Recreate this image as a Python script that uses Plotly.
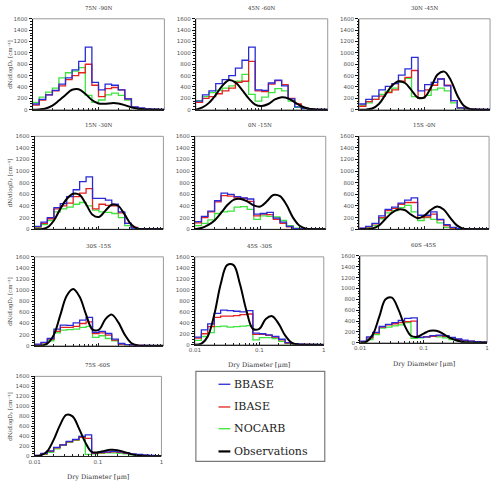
import plotly.graph_objects as go

W, H = 495, 489

# ---------------- data ----------------
bin_edges_um = [0.01, 0.0126, 0.0158, 0.02, 0.0251, 0.0316, 0.0398, 0.0501, 0.0631, 0.0794,
                0.1, 0.126, 0.158, 0.2, 0.251, 0.316, 0.398, 0.501, 0.631, 0.794, 1.0]
obs_diam_um = [0.01, 0.0126, 0.0158, 0.02, 0.0251, 0.0316, 0.0398, 0.0501, 0.0631, 0.0794,
               0.1, 0.126, 0.158, 0.2, 0.251, 0.316, 0.398, 0.501, 0.631, 0.794, 1.0]

region_titles = ["75N -90N", "45N -60N", "30N -45N", "15N -30N", "0N -15N",
                 "15S -0N", "30S -15S", "45S -30S", "60S -45S", "75S -60S"]

bbase_75n_90n = [100, 180, 260, 340, 450, 560, 700, 850, 1100, 480, 350, 450, 430, 350, 190, 50, 30, 15, 10, 5]
ibase_75n_90n = [80, 170, 260, 330, 420, 530, 600, 650, 800, 430, 230, 370, 390, 350, 190, 40, 20, 10, 5, 0]
nocarb_75n_90n = [130, 220, 310, 380, 560, 650, 680, 740, 250, 130, 170, 260, 290, 250, 170, 30, 15, 10, 5, 0]
obs_75n_90n = [0, 5, 20, 70, 160, 260, 350, 360, 280, 170, 110, 105, 115, 110, 80, 40, 15, 5, 0, 0, 0]

bbase_45n_60n = [150, 260, 330, 460, 530, 600, 730, 870, 1100, 350, 340, 470, 520, 420, 190, 50, 20, 10, 5, 5]
ibase_45n_60n = [130, 200, 230, 280, 330, 380, 480, 500, 850, 330, 320, 450, 510, 440, 200, 100, 30, 10, 5, 0]
nocarb_45n_60n = [160, 230, 300, 340, 380, 420, 500, 620, 270, 150, 220, 300, 370, 330, 150, 40, 20, 10, 5, 0]
obs_45n_60n = [0, 40, 120, 260, 420, 520, 480, 350, 200, 90, 65, 100, 180, 220, 200, 130, 60, 20, 5, 0, 0]

bbase_30n_45n = [100, 180, 240, 350, 410, 460, 610, 720, 920, 330, 440, 480, 540, 420, 160, 30, 15, 10, 5, 5]
ibase_30n_45n = [60, 140, 180, 240, 300, 350, 500, 570, 690, 210, 350, 430, 540, 430, 160, 30, 15, 10, 5, 0]
nocarb_30n_45n = [80, 120, 180, 270, 320, 380, 480, 550, 230, 200, 250, 350, 380, 330, 120, 20, 10, 5, 0, 0]
obs_30n_45n = [0, 0, 20, 100, 260, 420, 500, 470, 340, 210, 220, 400, 620, 670, 520, 250, 70, 10, 0, 0, 0]

bbase_15n_30n = [50, 120, 200, 370, 440, 560, 680, 820, 900, 530, 530, 500, 430, 300, 100, 20, 10, 5, 5, 0]
ibase_15n_30n = [40, 100, 180, 350, 400, 450, 560, 620, 700, 350, 430, 410, 400, 280, 100, 30, 10, 5, 0, 0]
nocarb_15n_30n = [30, 80, 150, 300, 350, 380, 430, 460, 400, 330, 300, 290, 270, 200, 60, 20, 10, 5, 0, 0]
obs_15n_30n = [0, 0, 30, 150, 350, 520, 610, 590, 430, 250, 210, 320, 420, 400, 250, 80, 10, 0, 0, 0, 0]

bbase_0n_15n = [130, 220, 310, 490, 620, 600, 560, 540, 520, 260, 270, 290, 190, 120, 50, 10, 5, 5, 0, 0]
ibase_0n_15n = [110, 200, 300, 470, 580, 570, 540, 530, 480, 230, 260, 250, 170, 100, 40, 10, 5, 0, 0, 0]
nocarb_0n_15n = [60, 100, 160, 270, 300, 310, 380, 390, 340, 170, 230, 220, 210, 150, 60, 20, 10, 5, 0, 0]
obs_0n_15n = [0, 20, 70, 150, 280, 420, 510, 520, 480, 410, 390, 480, 590, 570, 420, 200, 60, 10, 0, 0, 0]

bbase_15s_0n = [20, 50, 100, 230, 340, 380, 450, 500, 540, 240, 240, 300, 170, 80, 30, 10, 5, 5, 0, 0]
ibase_15s_0n = [15, 40, 90, 200, 320, 360, 430, 460, 460, 200, 210, 260, 160, 60, 20, 10, 5, 0, 0, 0]
nocarb_15s_0n = [10, 30, 60, 180, 280, 320, 370, 410, 300, 150, 200, 170, 110, 30, 10, 5, 0, 0, 0, 0]
obs_15s_0n = [0, 0, 10, 60, 170, 280, 340, 330, 250, 190, 230, 330, 390, 340, 200, 70, 10, 0, 0, 0, 0]

bbase_30s_15s = [30, 60, 130, 300, 370, 365, 410, 460, 510, 240, 260, 220, 120, 40, 20, 10, 5, 5, 0, 0]
ibase_30s_15s = [20, 50, 120, 260, 330, 330, 350, 400, 430, 220, 230, 190, 100, 30, 15, 5, 5, 0, 0, 0]
nocarb_30s_15s = [10, 30, 90, 230, 280, 290, 300, 330, 350, 150, 180, 130, 90, 30, 10, 5, 0, 0, 0, 0]
obs_30s_15s = [0, 0, 40, 200, 550, 900, 1020, 880, 560, 290, 290, 480, 560, 420, 200, 50, 5, 0, 0, 0, 0]

bbase_45s_30s = [140, 270, 380, 570, 630, 620, 610, 600, 620, 210, 200, 180, 150, 100, 40, 20, 10, 5, 5, 0]
ibase_45s_30s = [120, 200, 330, 500, 520, 520, 530, 550, 560, 190, 190, 170, 140, 90, 30, 15, 5, 5, 0, 0]
nocarb_45s_30s = [80, 150, 220, 330, 340, 320, 330, 340, 350, 90, 130, 130, 110, 60, 20, 10, 5, 0, 0, 0]
obs_45s_30s = [0, 20, 150, 550, 1100, 1450, 1450, 1100, 620, 290, 290, 470, 520, 380, 170, 40, 5, 0, 0, 0, 0]

bbase_60s_45s = [30, 110, 190, 300, 340, 370, 410, 450, 460, 100, 110, 130, 140, 130, 100, 70, 50, 30, 20, 10]
ibase_60s_45s = [20, 90, 180, 290, 330, 350, 370, 390, 400, 100, 110, 120, 130, 120, 90, 60, 40, 30, 20, 10]
nocarb_60s_45s = [10, 60, 150, 270, 290, 310, 330, 370, 80, 90, 110, 120, 110, 90, 60, 40, 30, 20, 10, 5]
obs_60s_45s = [0, 20, 150, 480, 800, 830, 620, 320, 130, 110, 170, 220, 220, 170, 100, 50, 20, 5, 0, 0, 0]

bbase_75s_60s = [20, 60, 110, 180, 230, 300, 340, 400, 430, 70, 80, 90, 100, 90, 70, 50, 40, 30, 20, 10]
ibase_75s_60s = [20, 50, 100, 170, 230, 290, 330, 380, 360, 60, 70, 80, 90, 80, 60, 40, 30, 20, 10, 5]
nocarb_75s_60s = [10, 40, 80, 150, 220, 280, 320, 400, 40, 50, 60, 70, 70, 60, 50, 30, 20, 10, 5, 0]
obs_75s_60s = [0, 20, 100, 330, 620, 830, 800, 560, 280, 90, 80, 110, 130, 125, 95, 55, 25, 10, 0, 0, 0]

y_ticks = [0, 200, 400, 600, 800, 1000, 1200, 1400, 1600]
x_ticks = [0.01, 0.1, 1]
x_tick_text = ["0.01", "0.1", "1"]
x_minor = [0.02, 0.03, 0.04, 0.05, 0.06, 0.07, 0.08, 0.09, 0.2, 0.3, 0.4, 0.5, 0.6, 0.7, 0.8, 0.9]
legend_names = ["BBASE", "IBASE", "NOCARB", "Observations"]
y_title = "dN/dlogDₚ [cm⁻³]"
x_title = "Dry Diameter [μm]"

# ---------------- styling / layout ----------------
COL_B = "#2a2ad6"
COL_R = "#e42222"
COL_G = "#3ee43e"
COL_O = "#000000"

panel_series = [
    (bbase_75n_90n, ibase_75n_90n, nocarb_75n_90n, obs_75n_90n),
    (bbase_45n_60n, ibase_45n_60n, nocarb_45n_60n, obs_45n_60n),
    (bbase_30n_45n, ibase_30n_45n, nocarb_30n_45n, obs_30n_45n),
    (bbase_15n_30n, ibase_15n_30n, nocarb_15n_30n, obs_15n_30n),
    (bbase_0n_15n, ibase_0n_15n, nocarb_0n_15n, obs_0n_15n),
    (bbase_15s_0n, ibase_15s_0n, nocarb_15s_0n, obs_15s_0n),
    (bbase_30s_15s, ibase_30s_15s, nocarb_30s_15s, obs_30s_15s),
    (bbase_45s_30s, ibase_45s_30s, nocarb_45s_30s, obs_45s_30s),
    (bbase_60s_45s, ibase_60s_45s, nocarb_60s_45s, obs_60s_45s),
    (bbase_75s_60s, ibase_75s_60s, nocarb_75s_60s, obs_75s_60s),
]

# plot-area rectangles in pixels: x0, x1, ytop, ybottom
panel_px = [
    (27, 161, 16, 108), (193, 327, 16, 108), (359, 492, 16, 108),
    (29, 160, 135, 229), (192, 325, 135, 229), (359, 491, 135, 229),
    (29, 160, 257, 347), (192, 323, 257, 346), (360, 489, 256, 344),
    (29, 158, 378, 459),
]
bottom_panels = {7, 8, 9}
left_panels = {0, 3, 6, 9}


def px_x(p):
    return p / W


def px_y(p):
    return 1 - p / H


fig = go.Figure()
layout = dict(
    width=W, height=H, margin=dict(l=0, r=0, t=0, b=0),
    paper_bgcolor="white", plot_bgcolor="white", showlegend=False,
)
annotations = []
shapes = []

for i, (series, rect) in enumerate(zip(panel_series, panel_px)):
    n = i + 1
    xa = "x" if n == 1 else f"x{n}"
    ya = "y" if n == 1 else f"y{n}"
    xkey = "xaxis" if n == 1 else f"xaxis{n}"
    ykey = "yaxis" if n == 1 else f"yaxis{n}"
    x0, x1, yt, yb = rect
    bb, ib, nc, ob = series
    for vals, col in ((nc, COL_G), (ib, COL_R), (bb, COL_B)):
        fig.add_trace(go.Scatter(
            x=bin_edges_um, y=list(vals) + [vals[-1]], mode="lines",
            line=dict(color=col, width=1.3, shape="hv"),
            xaxis=xa, yaxis=ya, hoverinfo="skip"))
    fig.add_trace(go.Scatter(
        x=obs_diam_um, y=ob, mode="lines",
        line=dict(color=COL_O, width=2, shape="spline", smoothing=1.0),
        xaxis=xa, yaxis=ya, hoverinfo="skip"))

    show_x = i in bottom_panels
    layout[xkey] = dict(
        domain=[px_x(x0), px_x(x1)], anchor=ya, type="log", range=[-2, 0],
        showgrid=False, zeroline=False, showline=True, linecolor="#222", linewidth=1,
        ticks="inside", ticklen=3, tickcolor="#222", tickvals=x_ticks, ticktext=x_tick_text,
        showticklabels=show_x, tickfont=dict(family="DejaVu Sans", size=5.5, color="#555"),
        minor=dict(ticks="inside", ticklen=2, tickcolor="#222", tickvals=x_minor),
        fixedrange=True,
    )
    layout[ykey] = dict(
        domain=[px_y(yb), px_y(yt)], anchor=xa, range=[0, 1600],
        showgrid=False, zeroline=False, showline=True, linecolor="#111", linewidth=1,
        ticks="outside", ticklen=3, tickcolor="#111", tickvals=y_ticks,
        tickfont=dict(family="DejaVu Sans", size=5.5, color="#555"),
        minor=dict(ticks="outside", ticklen=1.5, tickcolor="#111", dtick=50),
        fixedrange=True,
    )
    # grey frame around plot area
    shapes.append(dict(type="rect", xref="paper", yref="paper",
                       x0=px_x(x0), x1=px_x(x1), y0=px_y(yb), y1=px_y(yt),
                       line=dict(color="#9a9a9a", width=1), layer="below"))
    # panel title
    annotations.append(dict(text=region_titles[i], xref="paper", yref="paper",
                            x=px_x((x0 + x1) / 2), y=px_y(yt - 11), xanchor="center",
                            yanchor="middle", showarrow=False,
                            font=dict(family="DejaVu Serif", size=5.5, color="#333")))
    if i in left_panels:
        annotations.append(dict(text=y_title,
                                xref="paper", yref="paper", x=px_x(4.5),
                                y=px_y((yt + yb) / 2), textangle=-90, showarrow=False,
                                xanchor="center", yanchor="middle",
                                font=dict(family="DejaVu Serif", size=5.5, color="#333")))
    if show_x:
        annotations.append(dict(text=x_title, xref="paper", yref="paper",
                                x=px_x((x0 + x1) / 2), y=px_y(yb + 21), showarrow=False,
                                xanchor="center", yanchor="middle",
                                font=dict(family="DejaVu Serif", size=6.5, color="#333")))

# legend box
shapes.append(dict(type="rect", xref="paper", yref="paper",
                   x0=px_x(193), x1=px_x(324), y0=px_y(464), y1=px_y(373),
                   line=dict(color="#7a7a7a", width=1.2), fillcolor="white"))
leg_cols = [COL_B, COL_R, COL_G, COL_O]
leg_widths = [1.3, 1.3, 1.3, 2.2]
leg_rows = [386, 409, 431, 454]
for name, col, lw, ry in zip(legend_names, leg_cols, leg_widths, leg_rows):
    shapes.append(dict(type="line", xref="paper", yref="paper",
                       x0=px_x(216), x1=px_x(228), y0=px_y(ry), y1=px_y(ry),
                       line=dict(color=col, width=lw)))
    annotations.append(dict(text=name, xref="paper", yref="paper", x=px_x(230),
                            y=px_y(ry), xanchor="left", yanchor="middle", showarrow=False,
                            font=dict(family="DejaVu Serif", size=11, color="#222")))

layout["annotations"] = annotations
layout["shapes"] = shapes
fig.update_layout(**layout)
fig.write_html("out.html")
